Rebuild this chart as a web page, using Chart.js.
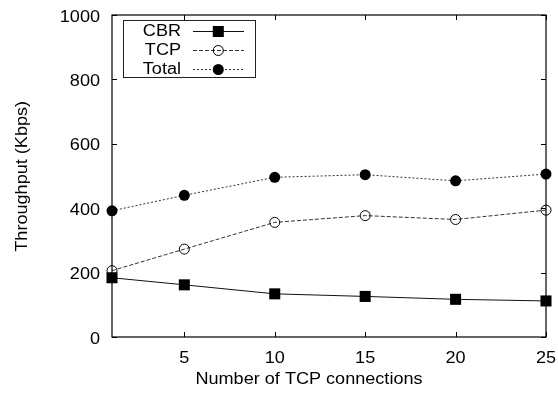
<!DOCTYPE html>
<html>
<head>
<meta charset="utf-8">
<script src="https://cdn.jsdelivr.net/npm/chart.js@4/dist/chart.umd.min.js"></script>
<style>
  html, body { margin: 0; padding: 0; background: #fff; }
  #wrap { width: 558px; height: 398px; }
</style>
</head>
<body>
<div id="wrap"><canvas id="c" width="558" height="398"></canvas></div>
<script>
// Number of TCP connections
const connections = [1, 5, 10, 15, 20, 25];
// Throughput in Kbps
const cbr   = [184, 162, 134, 126, 117, 112];
const tcp   = [206, 273, 356, 377, 365, 394];
const total = [392, 440, 496, 504, 485, 506];
const xTicks = [5, 10, 15, 20, 25];
const yTicks = [0, 200, 400, 600, 800, 1000];
const xTitle = 'Number of TCP connections';
const yTitle = 'Throughput (Kbps)';

const FONT = "'Liberation Sans', Arial, sans-serif";
const INK = '#000';
const WIDE = 1.13;   // horizontal widening of the PostScript-style lettering

function pts(ys) { return connections.map((x, i) => ({ x: x, y: ys[i] })); }

// text with a slightly widened face, anchored at (x, y) on its baseline
function wideText(ctx, text, x, y, align, rot) {
  ctx.save();
  ctx.translate(x, y);
  if (rot) ctx.rotate(rot);
  ctx.scale(WIDE, 1);
  ctx.textAlign = align;
  ctx.textBaseline = 'alphabetic';
  ctx.fillText(text, 0, 0);
  ctx.restore();
}

// gnuplot-style frame with inward ticks on all four sides, tick labels, titles and key
const framePlugin = {
  id: 'frame',
  afterDatasetsDraw(chart) {
    const { ctx, chartArea: a, scales: { x, y } } = chart;
    ctx.save();
    ctx.strokeStyle = INK;
    ctx.lineWidth = 1.2;
    ctx.strokeRect(a.left, a.top, a.right - a.left, a.bottom - a.top);
    ctx.lineWidth = 1;
    const t = 5;
    ctx.beginPath();
    x.ticks.forEach(tk => {
      const px = Math.round(x.getPixelForValue(tk.value)) + 0.5;
      ctx.moveTo(px, a.bottom); ctx.lineTo(px, a.bottom - t);
      ctx.moveTo(px, a.top); ctx.lineTo(px, a.top + t);
    });
    y.ticks.forEach(tk => {
      const py = Math.round(y.getPixelForValue(tk.value)) + 0.5;
      ctx.moveTo(a.left, py); ctx.lineTo(a.left + t, py);
      ctx.moveTo(a.right, py); ctx.lineTo(a.right - t, py);
    });
    ctx.stroke();

    // tick labels and axis titles
    ctx.fillStyle = INK;
    ctx.font = '16px ' + FONT;
    x.ticks.forEach(tk => {
      wideText(ctx, String(tk.value), x.getPixelForValue(tk.value), 362.5, 'center');
    });
    y.ticks.forEach(tk => {
      wideText(ctx, String(tk.value), 100, y.getPixelForValue(tk.value) + 6.5, 'right');
    });
    wideText(ctx, xTitle, 309, 383.5, 'center');
    wideText(ctx, yTitle, 27.3, 176.3, 'center', -Math.PI / 2);

    // key
    const bx = 123.5, by = 20.5, bw = 132, bh = 57;
    ctx.fillStyle = '#fff';
    ctx.fillRect(bx, by, bw, bh);
    ctx.strokeStyle = '#222';
    ctx.lineWidth = 1;
    ctx.strokeRect(bx, by, bw, bh);
    const rows = [31, 50, 69];
    chart.data.datasets.forEach((ds, i) => {
      const ry = rows[i];
      ctx.fillStyle = INK;
      wideText(ctx, ds.label, 181, ry + 5.3, 'right');
      ctx.save();
      ctx.strokeStyle = ds.borderColor;
      ctx.lineWidth = ds.borderWidth;
      ctx.setLineDash(ds.borderDash || []);
      ctx.beginPath();
      ctx.moveTo(193, ry + 0.5); ctx.lineTo(244, ry + 0.5);
      ctx.stroke();
      ctx.restore();
      ctx.save();
      ctx.fillStyle = ds.pointBackgroundColor;
      ctx.strokeStyle = ds.pointBorderColor;
      ctx.lineWidth = 1;
      Chart.helpers.drawPoint(ctx, {
        pointStyle: ds.pointStyle, radius: ds.pointRadius, rotation: 0,
        borderWidth: ds.pointBorderWidth
      }, 218.3, ry + 0.5);
      ctx.restore();
    });
    ctx.restore();
  }
};

new Chart(document.getElementById('c'), {
  type: 'line',
  data: {
    datasets: [
      {
        label: 'CBR', data: pts(cbr),
        borderColor: '#111', borderWidth: 1,
        pointStyle: 'rect', pointRadius: 7.8,
        pointBackgroundColor: '#000', pointBorderColor: '#000', pointBorderWidth: 0,
        clip: false
      },
      {
        label: 'TCP', data: pts(tcp),
        borderColor: '#333', borderWidth: 1, borderDash: [4, 2],
        pointStyle: 'circle', pointRadius: 5,
        pointBackgroundColor: 'rgba(255,255,255,0)', pointBorderColor: '#000', pointBorderWidth: 1,
        clip: false
      },
      {
        label: 'Total', data: pts(total),
        borderColor: '#333', borderWidth: 1, borderDash: [2, 2],
        pointStyle: 'circle', pointRadius: 5.5,
        pointBackgroundColor: '#000', pointBorderColor: '#000', pointBorderWidth: 0,
        clip: false
      }
    ]
  },
  options: {
    responsive: false,
    animation: false,
    layout: { padding: { left: 0, top: 15, right: 12, bottom: 0 } },
    plugins: { legend: { display: false }, tooltip: { enabled: false } },
    elements: { line: { tension: 0 } },
    scales: {
      x: {
        type: 'linear', min: 1, max: 25,
        afterBuildTicks(s) { s.ticks = xTicks.map(v => ({ value: v })); },
        afterFit(s) { s.height = 61; },
        grid: { display: false, drawTicks: false },
        border: { display: false },
        ticks: { display: false }
      },
      y: {
        type: 'linear', min: 0, max: 1000,
        afterBuildTicks(s) { s.ticks = yTicks.map(v => ({ value: v })); },
        afterFit(s) { s.width = 112; },
        grid: { display: false, drawTicks: false },
        border: { display: false },
        ticks: { display: false }
      }
    }
  },
  plugins: [framePlugin]
});
</script>
</body>
</html>
